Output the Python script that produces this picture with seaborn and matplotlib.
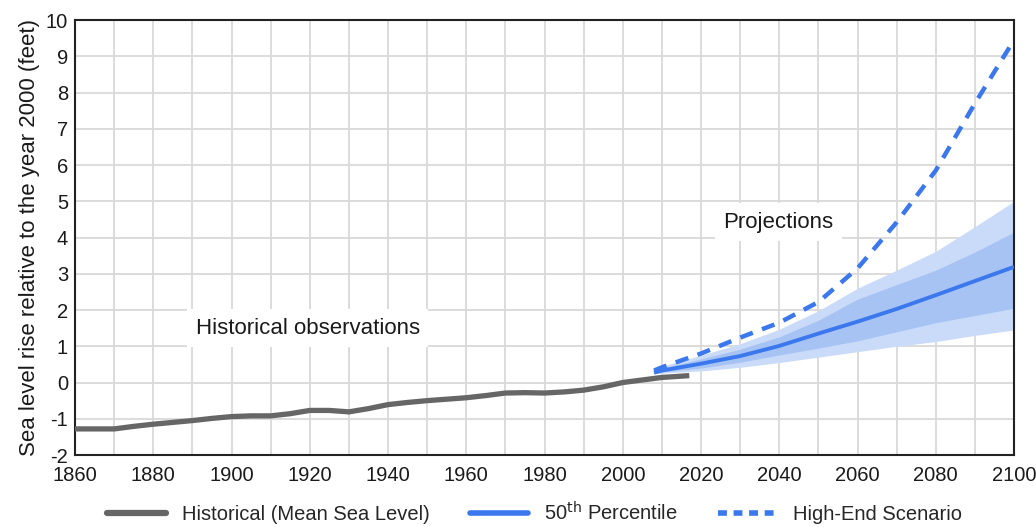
import numpy as np
import pandas as pd
import matplotlib
matplotlib.use("Agg")
import matplotlib.pyplot as plt
import seaborn as sns
from matplotlib.lines import Line2D

# ---- data ----
hist_years = [1860, 1865, 1870, 1875, 1880, 1885, 1890, 1895, 1900, 1905, 1910, 1915, 1920, 1925,
              1930, 1935, 1940, 1945, 1950, 1955, 1960, 1965, 1970, 1975, 1980, 1985, 1990, 1995,
              2000, 2005, 2010, 2017]
hist_vals = [-1.28, -1.28, -1.28, -1.21, -1.15, -1.10, -1.05, -0.99, -0.94, -0.92, -0.92, -0.86,
             -0.77, -0.77, -0.81, -0.72, -0.61, -0.55, -0.50, -0.46, -0.42, -0.36, -0.29, -0.28,
             -0.29, -0.26, -0.21, -0.12, 0.00, 0.07, 0.14, 0.19]

proj_years = [2008, 2010, 2020, 2030, 2040, 2050, 2060, 2070, 2080, 2090, 2100]
p50_vals = [0.27, 0.33, 0.52, 0.73, 1.01, 1.35, 1.68, 2.03, 2.41, 2.80, 3.19]
high_end_vals = [0.33, 0.42, 0.80, 1.24, 1.65, 2.22, 3.15, 4.42, 5.85, 7.70, 9.45]
outer_low = [0.25, 0.26, 0.32, 0.42, 0.55, 0.70, 0.85, 1.00, 1.13, 1.30, 1.45]
outer_high = [0.30, 0.45, 0.75, 1.07, 1.47, 1.98, 2.60, 3.10, 3.62, 4.30, 5.00]
inner_low = [0.26, 0.29, 0.40, 0.56, 0.76, 0.95, 1.15, 1.40, 1.65, 1.85, 2.05]
inner_high = [0.28, 0.40, 0.65, 0.92, 1.26, 1.72, 2.30, 2.70, 3.10, 3.60, 4.15]

x_ticks = list(range(1860, 2101, 20))
y_ticks = list(range(-2, 11))

hist_df = pd.DataFrame({"year": hist_years, "value": hist_vals})
proj_df = pd.DataFrame({"year": proj_years, "p50": p50_vals, "high": high_end_vals,
                        "olo": outer_low, "ohi": outer_high, "ilo": inner_low, "ihi": inner_high})

sns.set_theme(style="white")
plt.rcParams["font.family"] = ["Liberation Sans", "DejaVu Sans"]

fig = plt.figure(figsize=(10.36, 5.27), dpi=100)
ax = fig.add_axes([0.0724, 0.1366, 0.9064, 0.8254])

blue = "#3b78ee"
gray = "#666666"

ax.fill_between(proj_df["year"], proj_df["olo"], proj_df["ohi"], color="#c9dbf8", lw=0, zorder=2)
ax.fill_between(proj_df["year"], proj_df["ilo"], proj_df["ihi"], color="#a6c3f4", lw=0, zorder=2)

sns.lineplot(data=proj_df, x="year", y="high", ax=ax, color=blue, lw=3.2, zorder=4)
ax.lines[-1].set_dashes([3.0, 2.2])
sns.lineplot(data=proj_df, x="year", y="p50", ax=ax, color=blue, lw=2.8, zorder=4)
sns.lineplot(data=hist_df, x="year", y="value", ax=ax, color=gray, lw=3.8, zorder=5)
for ln in ax.lines:
    ln.set_solid_joinstyle("round")
    ln.set_solid_capstyle("butt")

ax.set_xlim(1860, 2100)
ax.set_ylim(-2, 10)
ax.set_xticks(x_ticks)
ax.set_xticks(list(range(1860, 2101, 10)), minor=True)
ax.set_yticks(y_ticks)
ax.set_xticklabels([str(t) for t in x_ticks], fontsize=14.5)
ax.set_yticklabels([str(t) for t in y_ticks], fontsize=14.5)
ax.grid(True, which="both", color="#d9d9d9", lw=1.3, zorder=0)
ax.set_axisbelow(True)
ax.tick_params(axis="x", which="both", length=0, pad=8, colors="#1a1a1a")
ax.tick_params(axis="y", which="both", length=0, pad=5, colors="#1a1a1a")
for s in ax.spines.values():
    s.set_color("#222222")
    s.set_linewidth(1.5)
ax.set_xlabel("")
ax.set_ylabel("Sea level rise relative to the year 2000 (feet)", fontsize=16, labelpad=4, color="#1a1a1a")

box = dict(facecolor="white", edgecolor="none", pad=6)
ax.text(1919.5, 1.5, "Historical observations", fontsize=16, ha="center", va="center",
        bbox=box, zorder=3, color="#1a1a1a")
ax.text(2039.7, 4.42, "Projections", fontsize=16, ha="center", va="center",
        bbox=box, zorder=3, color="#1a1a1a")

handles = [
    Line2D([], [], color=gray, lw=4.5),
    Line2D([], [], color=blue, lw=4.0),
    Line2D([], [], color=blue, lw=4.0, dashes=[1.6, 1.2]),
]
labels = ["Historical (Mean Sea Level)", "50$^{\\rm th}$ Percentile", "High-End Scenario"]
fig.legend(handles, labels, loc="center", bbox_to_anchor=(0.516, 0.027), ncol=3, frameon=False,
           fontsize=14.5, handlelength=2.9, columnspacing=2.0, handletextpad=0.8)

fig.savefig("out.png", dpi=100)
